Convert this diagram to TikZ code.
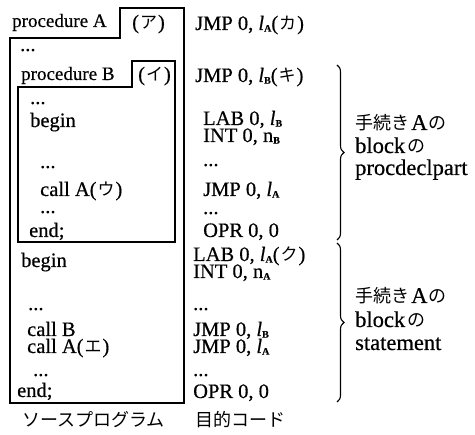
\documentclass[tikz,border=0pt]{standalone}
\usepackage{fontspec}
\setmainfont{Liberation Serif}[FakeBold=0.5]
\newfontfamily\jp{Noto Sans CJK JP}
\usetikzlibrary{decorations.pathreplacing}
% small bold subscript used for labels l_A, n_B, ...
\newcommand\subs[1]{\raisebox{-0.08em}{\fontsize{10}{10}\selectfont\bfseries #1}}
\newcommand\lbl[1]{{\itshape l}\subs{#1}}
\newcommand\kana[1]{\hspace{1pt}{\jp\fontsize{17}{17}\selectfont #1}\hspace{1pt}}

\begin{document}
\begin{tikzpicture}[x=1pt,y=-1pt,
  txt/.style={anchor=base west,inner sep=0pt,font=\fontsize{20.5}{20.5}\selectfont,
              text height=0.68em,text depth=0.08em},
  head/.style={anchor=base west,inner sep=0pt,font=\fontsize{19}{19}\selectfont},
  side/.style={anchor=base west,inner sep=0pt,font=\fontsize{22.5}{22.5}\selectfont},
  jtxt/.style={anchor=base west,inner sep=0pt,font=\jp\fontsize{18}{18}\selectfont},
  frame/.style={draw,line width=1.3pt,line join=miter},
  br/.style={decorate,decoration={brace,amplitude=7pt},line width=1.1pt}]
\useasboundingbox (0,0) rectangle (475,435);

% procedure frames
\draw[frame] (10,38) -- (120,38) -- (120,8) -- (184,8) -- (184,403) -- (10,403) -- cycle;
\draw[frame] (18,87) -- (132,87) -- (132,61) -- (175,61) -- (175,242) -- (18,242) -- cycle;

% source program
\node[head] (pa)  at (12,27)  {procedure A};
\node[txt] (pak) at (132,29) {(\kana{ア})};
\node[txt] (d1)  at (20,51)  {...};
\node[head] (pb)  at (21,80)  {procedure B};
\node[txt] (pbk) at (138,81) {(\kana{イ})};
\node[txt] (d2)  at (30,104) {...};
\node[txt] (bg1) at (30,127) {begin};
\node[txt] (d3)  at (40,168) {...};
\node[txt] (ca1) at (40,196) {call A(\kana{ウ})};
\node[txt] (d4)  at (40,213) {...};
\node[txt] (en1) at (29,237) {end;};
\node[txt] (bg2) at (21,267) {begin};
\node[txt] (d5)  at (28,310) {...};
\node[txt] (cb)  at (27,336) {call B};
\node[txt] (ca2) at (27,353) {call A(\kana{エ})};
\node[txt] (d6)  at (33,376) {...};
\node[txt] (en2) at (17,397) {end;};

% object code
\node[txt] (c1)  at (195,30)  {JMP 0, \lbl{A}(\kana{カ})};
\node[txt] (c2)  at (195,82)  {JMP 0, \lbl{B}(\kana{キ})};
\node[txt] (c3)  at (203,125) {LAB 0, \lbl{B}};
\node[txt] (c4)  at (203,142) {INT 0, n\subs{B}};
\node[txt] (c5)  at (203,166) {...};
\node[txt] (c6)  at (203,196) {JMP 0, \lbl{A}};
\node[txt] (c7)  at (203,214) {...};
\node[txt] (c8)  at (203,237) {OPR 0, 0};
\node[txt] (c9)  at (193,261) {LAB 0, \lbl{A}(\kana{ク})};
\node[txt] (c10) at (193,278) {INT 0, n\subs{A}};
\node[txt] (c11) at (193,310) {...};
\node[txt] (c12) at (193,336) {JMP 0, \lbl{B}};
\node[txt] (c13) at (193,353) {JMP 0, \lbl{A}};
\node[txt] (c14) at (193,376) {...};
\node[txt] (c15) at (193,398) {OPR 0, 0};

% braces and their labels
\coordinate (b1t) at (337,65);
\coordinate (b1b) at (337,240);
\coordinate (b2t) at (337,243);
\coordinate (b2b) at (337,402);
\draw[br] (b1t) -- (b1b);
\draw[br] (b2t) -- (b2b);

\node[jtxt] (l1a) at (355,130) {手続き\hspace{2pt}{\rmfamily\fontsize{22.5}{22.5}\selectfont A}\hspace{1pt}の};
\node[jtxt] (l1b) at (355,153) {{\rmfamily\fontsize{22.5}{22.5}\selectfont block}\hspace{2pt}の};
\node[side] (l1c) at (355,175) {procdeclpart};
\node[jtxt] (l2a) at (355,303) {手続き\hspace{2pt}{\rmfamily\fontsize{22.5}{22.5}\selectfont A}\hspace{1pt}の};
\node[jtxt] (l2b) at (355,327) {{\rmfamily\fontsize{22.5}{22.5}\selectfont block}\hspace{2pt}の};
\node[side] (l2c) at (355,350) {statement};

% captions
\node[jtxt] (cap1) at (22,427) {ソースプログラム};
\node[jtxt] (cap2) at (195,427) {目的コード};
\end{tikzpicture}
\end{document}
